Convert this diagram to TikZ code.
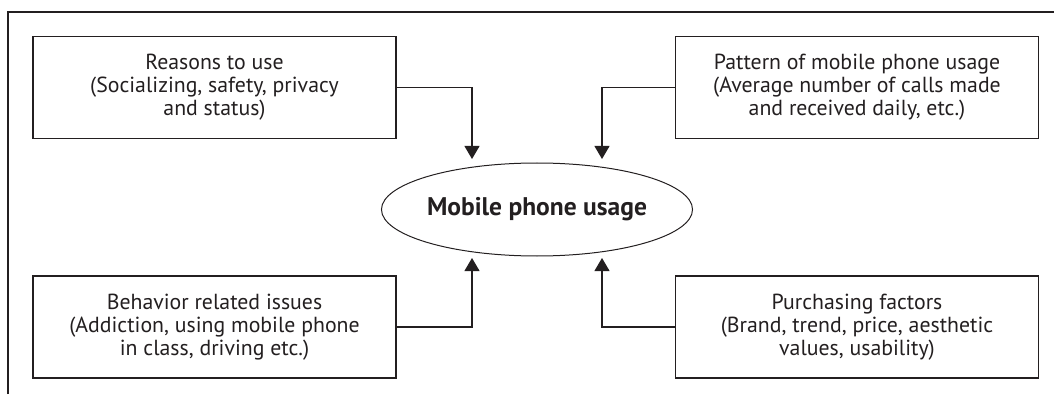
\documentclass[tikz,border=0pt]{standalone}
\usepackage{fontspec}
\setmainfont{PT Sans}
\usetikzlibrary{arrows.meta,shapes.geometric}
\definecolor{ink}{HTML}{231F20}
\tikzset{
  fbox/.style={draw=ink, line width=1.1pt, minimum width=363pt, minimum height=102pt, align=center, text=ink, font=\fontsize{21.8}{23}\selectfont, inner sep=0pt},
  conn/.style={draw=ink, line width=1.1pt, -{Triangle[width=15pt,length=13pt]}},
}
\begin{document}
\begin{tikzpicture}[x=1pt,y=1pt]
\useasboundingbox (0,0) rectangle (1054,394);
\draw[ink, line width=1.1pt] (8,0) -- (8,382) -- (1054,382);
\node[fbox] (b1) at (214.5,306.5) {Reasons to use\\(Socializing, safety, privacy\\and status)};
\node[fbox] (b2) at (857,306.5) {Pattern of mobile phone usage\\(Average number of calls made\\and received daily, etc.)};
\node[fbox] (b3) at (214.5,67) {Behavior related issues\\(Addiction, using mobile phone\\in class, driving etc.)};
\node[fbox] (b4) at (857,67) {Purchasing factors\\(Brand, trend, price, aesthetic\\values, usability)};
\node[draw=ink, line width=1pt, ellipse, minimum width=280pt, minimum height=93pt, inner sep=0pt, text=ink, font=\fontsize{25.5}{27}\selectfont\bfseries] (e) at (537,184.5) {Mobile phone usage};
\coordinate (t1) at (472,235);
\coordinate (t2) at (602,235);
\coordinate (t3) at (472,136);
\coordinate (t4) at (602,136);
\draw[conn] (b1.east) -| (t1);
\draw[conn] (b2.west) -| (t2);
\draw[conn] (b3.east) -| (t3);
\draw[conn] (b4.west) -| (t4);
\end{tikzpicture}
\end{document}
